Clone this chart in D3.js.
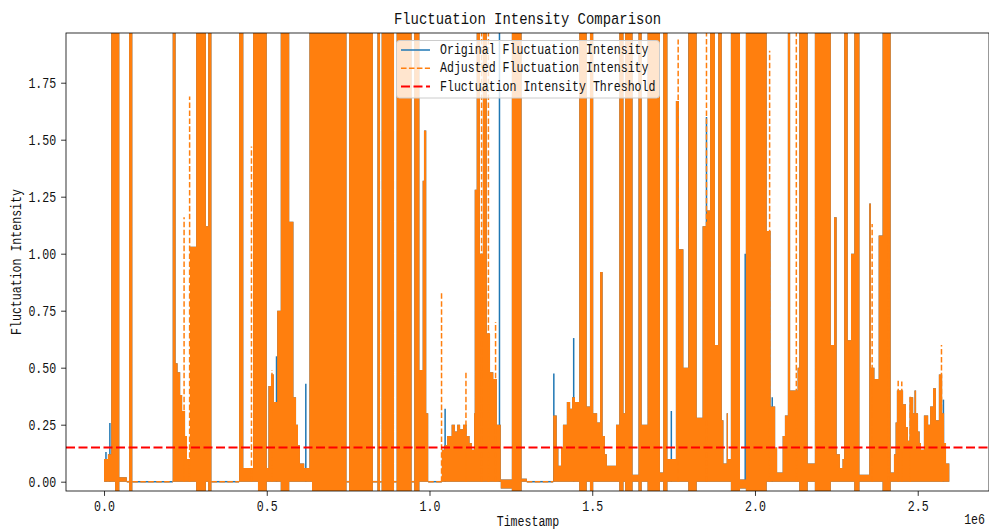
<!DOCTYPE html>
<html>
<head>
<meta charset="utf-8">
<script src="https://cdn.jsdelivr.net/npm/d3@7"></script>
<style>
  body { margin: 0; background: #fff; }
  svg { display: block; }
</style>
</head>
<body>
<svg id="chart" width="989" height="529"></svg>
<script>
// ---- Data (timestamps in units of 1e6) ----
// The signal is far denser than the pixel grid, so each series is stored as
// min/max windows: a window starts at runStart[i], ends at the next start,
// and the signal swings between runLo[i] and runHi[i] inside it.
const runStart = [
  0.000, 0.012, 0.022, 0.034, 0.047, 0.070, 0.077, 0.087, 0.211, 0.220,
  0.226, 0.234, 0.240, 0.249, 0.255, 0.264, 0.283, 0.313, 0.320, 0.330,
  0.415, 0.428, 0.458, 0.473, 0.500, 0.505, 0.513, 0.522, 0.532, 0.543,
  0.569, 0.582, 0.590, 0.596, 0.602, 0.615, 0.631, 0.639, 0.745, 0.753,
  0.826, 0.840, 0.848, 0.853, 0.891, 0.899, 0.945, 0.953, 0.969, 0.979,
  0.983, 0.990, 0.996, 1.038, 1.046, 1.054, 1.068, 1.078, 1.085, 1.094,
  1.103, 1.114, 1.123, 1.130, 1.137, 1.139, 1.145, 1.155, 1.164, 1.176,
  1.186, 1.196, 1.207, 1.219, 1.253, 1.283, 1.299, 1.380, 1.391, 1.396,
  1.404, 1.410, 1.422, 1.432, 1.438, 1.447, 1.460, 1.483, 1.493, 1.503,
  1.515, 1.524, 1.532, 1.539, 1.545, 1.573, 1.583, 1.596, 1.601, 1.624,
  1.642, 1.652, 1.670, 1.708, 1.718, 1.731, 1.757, 1.766, 1.780, 1.795,
  1.821, 1.839, 1.852, 1.862, 1.877, 1.887, 1.898, 1.903, 1.913, 1.917,
  1.926, 1.954, 1.972, 2.036, 2.048, 2.062, 2.068, 2.085, 2.092, 2.101,
  2.108, 2.131, 2.136, 2.162, 2.184, 2.233, 2.243, 2.251, 2.261, 2.269,
  2.274, 2.285, 2.295, 2.305, 2.321, 2.351, 2.356, 2.367, 2.380, 2.392,
  2.417, 2.427, 2.432, 2.436, 2.455, 2.464, 2.470, 2.475, 2.486, 2.490,
  2.495, 2.501, 2.506, 2.510, 2.519, 2.532, 2.538, 2.547, 2.556, 2.565,
  2.575, 2.581, 2.587
];
const runEnd = 2.597;
const runLo = [
  0, 0, 0, -0.05, 0, 0, -0.05, 0, 0, 0,
  0, 0, 0, 0, 0, 0, -0.05, 0, -0.05, 0,
  0, 0, 0, -0.05, 0, 0, 0, 0, 0, -0.05,
  0, 0, 0, 0, 0, 0, 0, -0.05, 0, -0.05,
  0, -0.05, 0, -0.05, 0, -0.05, 0, -0.05, 0, 0,
  0, 0, 0, 0, 0, 0, 0, 0, 0, 0,
  0, 0, 0, 0, 0, 0, 0, 0, 0, 0,
  0, 0, 0, -0.03, -0.05, 0, 0, 0, 0, 0,
  0, 0, 0, 0, 0, 0, -0.05, 0, -0.05, 0,
  0, 0, 0, 0, 0, 0, -0.05, 0, -0.05, 0,
  -0.05, 0, -0.05, 0, -0.05, 0, 0, 0, 0, -0.05,
  0, 0, 0, 0, 0, 0, 0, 0, 0, 0,
  -0.05, -0.03, -0.05, 0, 0, 0, 0, 0, 0, 0,
  0, 0, -0.05, 0, -0.05, 0, 0, 0, 0, 0,
  0, 0, 0, -0.05, 0, 0, 0, 0, 0, -0.05,
  0, 0, 0, 0, 0, 0, 0, 0, 0, 0,
  0, 0, 0, 0, 0, 0, 0, 0, 0, 0,
  0, 0, 0
];
const runHi = [
  0.10, 0.12, 2.2, 2.2, 0.02, 0, 2.2, 0, 2.2, 0.52,
  0.48, 0.38, 0.31, 0.20, 0.10, 1.03, 2.2, 1.12, 2.2, 0,
  2.2, 0.06, 2.2, 2.2, 0.06, 0.42, 0.47, 0.35, 0.75, 2.2,
  1.14, 0.37, 0.25, 0.16, 0.08, 0.06, 2.2, 2.2, 0, 2.2,
  0, 2.2, 0, 2.2, 0, 2.2, 0, 2.2, 0.49, 1.32,
  1.54, 0.30, 0, 0.14, 0.16, 0.20, 0.25, 0.22, 0.25, 0.23,
  0.25, 0.20, 0.17, 0.14, 0.30, 1.28, 2.2, 1.00, 2.2, 0.65,
  0.48, 0.45, 0.25, 0.01, 2.2, 0.01, 0, 0.29, 0.15, 0.07,
  0.15, 0.25, 0.35, 0.32, 0.37, 0.35, 2.2, 0.33, 2.2, 0.30,
  0.26, 0.92, 0.20, 0.12, 0.07, 0.25, 2.2, 0.30, 2.2, 0.03,
  2.2, 0.25, 2.2, 0.04, 2.2, 0.10, 1.67, 1.02, 0.50, 2.2,
  0.28, 1.12, 1.19, 2.2, 0.60, 2.2, 0.27, 0.08, 0.30, 0.10,
  2.2, 0.01, 2.2, 1.10, 0.33, 0.15, 0.04, 0.20, 0.29, 2.2,
  0.40, 0.50, 2.2, 0.08, 2.2, 0.60, 1.16, 0.12, 0.06, 0.10,
  2.2, 0.62, 1.00, 2.2, 0.03, 1.22, 0.50, 0.45, 1.08, 2.2,
  0.04, 0.12, 0.26, 0.40, 0.34, 0.24, 0.18, 0.37, 0.30, 0.40,
  0.30, 0.22, 0.17, 0.14, 0.29, 0.25, 0.33, 0.41, 0.27, 0.47,
  0.30, 0.17, 0.08
];

// Single-sample peaks of the adjusted series
const spikeT = [0.246, 0.263, 0.453, 0.516, 1.037, 1.112, 1.160, 1.181, 1.203,
                1.764, 1.851, 2.045, 2.127, 2.360, 2.410, 2.440, 2.451, 2.477, 2.573];
const spikeV = [1.16, 1.69, 1.47, 0.49, 0.83, 0.48, 2.2, 2.2, 0.70,
                1.94, 2.2, 1.89, 2.2, 1.13, 2.2, 0.45, 0.44, 0.38, 0.60];

// Samples where the original series peaks on its own
const origSpikeT = [0.006, 0.018, 0.530, 0.620, 1.048, 1.215, 1.382, 1.443, 1.743, 1.797,
                    1.851, 1.970, 2.053, 2.410, 2.579];
const origSpikeV = [0.13, 0.257, 0.55, 0.43, 0.32, 2.2, 0.475, 0.63, 0.31, 2.2,
                    1.6, 1.0, 0.37, 2.2, 0.36];

const threshold = 0.15;

const xTicks = [0.0, 0.5, 1.0, 1.5, 2.0, 2.5];
const yTicks = [0.00, 0.25, 0.50, 0.75, 1.00, 1.25, 1.50, 1.75];

const seriesNames = ["Original Fluctuation Intensity",
                     "Adjusted Fluctuation Intensity",
                     "Fluctuation Intensity Threshold"];
const seriesColors = ["#1f77b4", "#ff7f0e", "#ff0000"];

// ---- Layout ----
const plot = { left: 66, top: 33, right: 989, bottom: 491 };
const FONT = "'Liberation Mono', 'DejaVu Sans Mono', monospace";
const ORANGE_DASH = "5.55,2.4";
const RED_DASH = "9,3.5";

const x = d3.scaleLinear().domain([-0.1168, 2.7190]).range([plot.left, plot.right]);
const y = d3.scaleLinear().domain([-0.0408, 1.968]).range([plot.bottom, plot.top]);

const svg = d3.select("#chart");

// half-width monospaced text, squeezed to 0.5em per character
function mono(sel, size) {
  sel.attr("font-family", FONT)
     .attr("font-size", size)
     .attr("fill", "#111")
     .attr("lengthAdjust", "spacingAndGlyphs")
     .attr("textLength", function () { return this.textContent.length * size * 0.5; });
  return sel;
}

svg.append("defs").append("clipPath").attr("id", "plotClip")
  .append("rect")
  .attr("x", plot.left).attr("y", plot.top)
  .attr("width", plot.right - plot.left).attr("height", plot.bottom - plot.top);

// build windows
const runs = runStart.map((t, i) => ({
  t0: t,
  t1: i < runStart.length - 1 ? runStart[i + 1] : runEnd,
  lo: runLo[i],
  hi: runHi[i]
}));
const bandPoints = runs.flatMap(r => [{ t: r.t0, lo: r.lo, hi: r.hi }, { t: r.t1, lo: r.lo, hi: r.hi }]);
const flatRuns = runs.filter(r => r.hi - r.lo < 0.02);

const band = d3.area()
  .x(d => x(d.t))
  .y0(d => y(d.lo))
  .y1(d => y(d.hi));
const seg = d3.line().x(d => x(d[0])).y(d => y(d[1]));

const g = svg.append("g").attr("clip-path", "url(#plotClip)");

// original series (drawn first)
const gOrig = g.append("g");
gOrig.append("path").attr("d", band(bandPoints)).attr("fill", seriesColors[0]);
gOrig.selectAll("path.flat").data(flatRuns).join("path").attr("class", "flat")
  .attr("d", r => seg([[r.t0, r.hi], [r.t1, r.hi]]))
  .attr("fill", "none").attr("stroke", seriesColors[0]).attr("stroke-width", 1.5);
gOrig.selectAll("path.spike").data(origSpikeT.map((t, i) => [t, origSpikeV[i]])).join("path")
  .attr("class", "spike")
  .attr("d", d => seg([[d[0], 0], [d[0], d[1]]]))
  .attr("fill", "none").attr("stroke", seriesColors[0]).attr("stroke-width", 1.5);

// adjusted series (dashed line on top)
const gAdj = g.append("g");
gAdj.append("path").attr("d", band(bandPoints)).attr("fill", seriesColors[1]);
gAdj.selectAll("path.flat").data(flatRuns).join("path").attr("class", "flat")
  .attr("d", r => seg([[r.t0, r.hi], [r.t1, r.hi]]))
  .attr("fill", "none").attr("stroke", seriesColors[1]).attr("stroke-width", 1.5)
  .attr("stroke-dasharray", ORANGE_DASH);
gAdj.selectAll("path.spike").data(spikeT.map((t, i) => [t, spikeV[i]])).join("path")
  .attr("class", "spike")
  .attr("d", d => seg([[d[0], 0], [d[0], d[1]]]))
  .attr("fill", "none").attr("stroke", seriesColors[1]).attr("stroke-width", 1.5)
  .attr("stroke-dasharray", ORANGE_DASH);

// threshold
g.append("path")
  .attr("d", seg([[x.domain()[0], threshold], [x.domain()[1], threshold]]))
  .attr("fill", "none").attr("stroke", seriesColors[2]).attr("stroke-width", 2)
  .attr("stroke-dasharray", RED_DASH);

// ---- Axes ----
const xAxis = svg.append("g").attr("transform", `translate(0,${plot.bottom})`)
  .call(d3.axisBottom(x).tickValues(xTicks).tickFormat(d3.format(".1f"))
        .tickSize(4.9).tickPadding(4.9).tickSizeOuter(0));
const yAxis = svg.append("g").attr("transform", `translate(${plot.left},0)`)
  .call(d3.axisLeft(y).tickValues(yTicks).tickFormat(d3.format(".2f"))
        .tickSize(4.9).tickPadding(4.9).tickSizeOuter(0));
[xAxis, yAxis].forEach(a => {
  a.select(".domain").remove();
  a.selectAll(".tick line").attr("stroke", "#000").attr("stroke-width", 0.8);
  mono(a.selectAll(".tick text"), 13.9);
});

// spines
svg.append("rect")
  .attr("x", plot.left).attr("y", plot.top)
  .attr("width", plot.right - plot.left).attr("height", plot.bottom - plot.top)
  .attr("fill", "none").attr("stroke", "#000").attr("stroke-width", 0.8);

// ---- Labels ----
mono(svg.append("text").attr("x", 527.5).attr("y", 24.3).attr("text-anchor", "middle")
  .text("Fluctuation Intensity Comparison"), 16.7);
mono(svg.append("text").attr("x", 528).attr("y", 526).attr("text-anchor", "middle")
  .text("Timestamp"), 13.9);
mono(svg.append("text").attr("x", 985).attr("y", 524).attr("text-anchor", "end")
  .text("1e6"), 13.9);
mono(svg.append("text").attr("transform", "translate(21.3,262) rotate(-90)")
  .attr("text-anchor", "middle").text("Fluctuation Intensity"), 13.9);

// ---- Legend ----
const legend = svg.append("g");
legend.append("rect")
  .attr("x", 396.5).attr("y", 40.5).attr("width", 263).attr("height", 57.5)
  .attr("rx", 3).attr("fill", "#fff").attr("fill-opacity", 0.8)
  .attr("stroke", "#cccccc").attr("stroke-width", 1);
const dashes = [null, ORANGE_DASH, RED_DASH];
const widths = [1.5, 1.5, 2];
seriesNames.forEach((name, i) => {
  const cy = 50 + i * 18.3;
  legend.append("line")
    .attr("x1", 401).attr("x2", 430).attr("y1", cy).attr("y2", cy)
    .attr("stroke", seriesColors[i]).attr("stroke-width", widths[i])
    .attr("stroke-dasharray", dashes[i]);
  mono(legend.append("text").attr("x", 440).attr("y", cy)
    .attr("dominant-baseline", "central").text(name), 13.9);
});
</script>
</body>
</html>
